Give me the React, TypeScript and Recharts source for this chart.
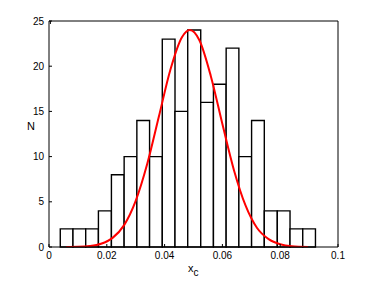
import { ComposedChart, Line, XAxis, YAxis, ReferenceArea } from "recharts";

// histogram bins (edges) and counts
const binEdges = [
  0.0039, 0.0083, 0.0127, 0.0171, 0.0216, 0.026, 0.0304, 0.0348, 0.0392, 0.0436, 0.048,
  0.0525, 0.0569, 0.0613, 0.0657, 0.0701, 0.0745, 0.079, 0.0834, 0.0878, 0.0922,
];
const counts = [2, 2, 2, 4, 8, 10, 14, 10, 23, 15, 24, 16, 18, 22, 10, 14, 4, 4, 2, 2];

// red fitted curve
const fitX = [
  0.006, 0.01, 0.014, 0.018, 0.022, 0.026, 0.03, 0.034, 0.038, 0.042, 0.046, 0.0487, 0.052,
  0.056, 0.06, 0.064, 0.068, 0.072, 0.076, 0.08, 0.084, 0.0896,
];
const fitY = [
  0.01, 0.03, 0.11, 0.36, 1.01, 2.42, 5.1, 9.2, 14.4, 19.6, 23.2, 24, 22.9, 18.9, 13.6, 8.5,
  4.6, 2.1, 0.87, 0.31, 0.09, 0.01,
];

const xTicks = [0, 0.02, 0.04, 0.06, 0.08, 0.1];
const yTicks = [0, 5, 10, 15, 20, 25];

const fitData = fitX.map((x, i) => ({ x, y: fitY[i] }));

const font = "'Liberation Sans', Arial, sans-serif";

const BottomTick = (props: any) => {
  const { x, y, payload } = props;
  return (
    <g>
      <line x1={x} y1={y} x2={x} y2={y - 3} stroke="#000" />
      <text x={x} y={y + 12} textAnchor="middle" fontSize={10} fontFamily={font} fill="#000">
        {String(payload.value)}
      </text>
    </g>
  );
};

const TopTick = (props: any) => {
  const { x, y } = props;
  return <line x1={x} y1={y} x2={x} y2={y + 3} stroke="#000" />;
};

const LeftTick = (props: any) => {
  const { x, y, payload } = props;
  return (
    <g>
      <line x1={x} y1={y} x2={x + 3} y2={y} stroke="#000" />
      <text x={x - 5} y={y + 3.5} textAnchor="end" fontSize={10} fontFamily={font} fill="#000">
        {String(payload.value)}
      </text>
    </g>
  );
};

const RightTick = (props: any) => {
  const { x, y } = props;
  return <line x1={x} y1={y} x2={x - 3} y2={y} stroke="#000" />;
};

export default function App() {
  return (
    <div style={{ position: "absolute", left: 0, top: 0, width: 374, height: 281, background: "#fff", fontFamily: font }}>
      <ComposedChart
        width={374}
        height={281}
        data={fitData}
        margin={{ top: 20, right: 35, bottom: 4, left: 9 }}
      >
        <XAxis
          dataKey="x"
          type="number"
          domain={[0, 0.1]}
          ticks={xTicks}
          height={30}
          tickSize={0}
          tickMargin={0}
          tick={<BottomTick />}
          axisLine={{ stroke: "#000" }}
          allowDataOverflow
        />
        <XAxis
          xAxisId="top"
          orientation="top"
          type="number"
          domain={[0, 0.1]}
          ticks={xTicks}
          height={1}
          tickSize={0}
          tickMargin={0}
          tick={<TopTick />}
          axisLine={{ stroke: "#000" }}
        />
        <YAxis
          type="number"
          domain={[0, 25]}
          ticks={yTicks}
          width={40}
          tickSize={0}
          tickMargin={0}
          tick={<LeftTick />}
          axisLine={{ stroke: "#000" }}
          allowDataOverflow
        />
        <YAxis
          yAxisId="right"
          orientation="right"
          type="number"
          domain={[0, 25]}
          ticks={yTicks}
          width={1}
          tickSize={0}
          tickMargin={0}
          tick={<RightTick />}
          axisLine={{ stroke: "#000" }}
        />
        {counts.map((c, i) => (
          <ReferenceArea
            key={i}
            x1={binEdges[i]}
            x2={binEdges[i + 1]}
            y1={0}
            y2={c}
            fill="#fff"
            fillOpacity={1}
            stroke="#000"
            strokeWidth={1.4}
          />
        ))}
        <Line
          type="monotone"
          dataKey="y"
          stroke="#ff0000"
          strokeWidth={2}
          dot={false}
          activeDot={false}
          isAnimationActive={false}
        />
      </ComposedChart>
      <div style={{ position: "absolute", left: 27, top: 120, fontSize: 11, lineHeight: "12px" }}>N</div>
      <div style={{ position: "absolute", left: 188, top: 262, fontSize: 11, lineHeight: "12px" }}>
        x<sub style={{ fontSize: 10, verticalAlign: "-4px" }}>c</sub>
      </div>
    </div>
  );
}
